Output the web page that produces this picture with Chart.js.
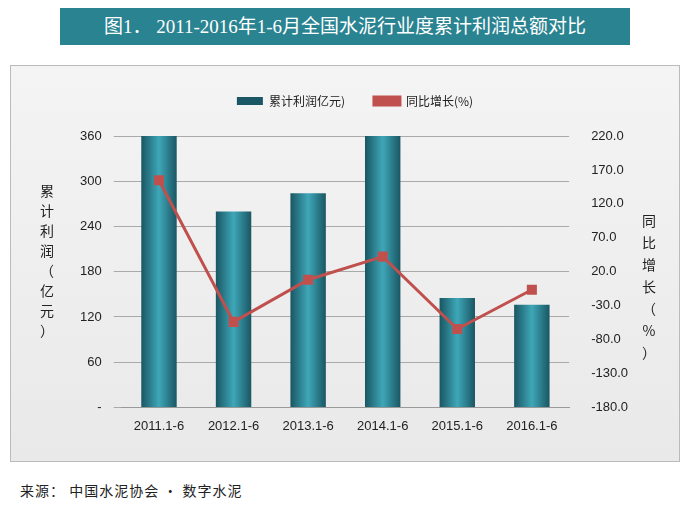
<!DOCTYPE html>
<html><head><meta charset="utf-8">
<script src="https://cdn.jsdelivr.net/npm/chart.js@4"></script>
<style>
body{margin:0;width:690px;height:505px;background:#fff;font-family:"Noto Sans CJK SC","Liberation Serif",serif;position:relative;overflow:hidden}
#title{position:absolute;left:60px;top:8px;width:570px;height:37px;background:#2a8391;color:#fff;font-size:19px;line-height:37px;text-align:center;font-family:"Liberation Serif","Noto Sans CJK SC",serif}
#panel{position:absolute;left:10px;top:65px;width:668px;height:395px;border:1px solid #bbb;background:linear-gradient(#f4f4f4,#e9e9e9)}
#src{position:absolute;left:20px;top:480px;font-size:14px;color:#222;letter-spacing:1px}
</style></head><body>
<div id="title">图1．  2011-2016年1-6月全国水泥行业度累计利润总额对比</div>
<div id="panel"><canvas id="c" width="668" height="395"></canvas></div>
<div id="src">来源：  中国水泥协会 · 数字水泥</div>
<script>
const categories=["2011.1-6","2012.1-6","2013.1-6","2014.1-6","2015.1-6","2016.1-6"];
const profit=[360,260,284,360,145,136];
const growth=[154.8,-54,8.2,42.2,-64.4,-6.6];
const leftTicks=[0,60,120,180,240,300,360];
const rightTicks=[-180,-130,-80,-30,20,70,120,170,220];
function barFill(ctx){
  const ch=ctx.chart,xs=ch.scales&&ch.scales.x,ca=ch.chartArea;
  if(!xs||!ca||ctx.dataIndex===undefined)return "#2b8394";
  const cx=xs.getPixelForValue(ctx.dataIndex),w=ca.width/categories.length*0.95*0.5;
  const g=ch.ctx.createLinearGradient(cx-w/2,0,cx+w/2,0);
  g.addColorStop(0,"#1a5663");g.addColorStop(0.5,"#3ea7b8");g.addColorStop(1,"#1a5663");return g;
}
const vtext={id:"vtext",afterDraw(ch){const c=ch.ctx;c.save();c.fillStyle="#222";c.font="14px 'Noto Sans CJK SC'";c.textAlign="center";
 const L=["累","计","利","润","（","亿","元","）"];L.forEach((t,i)=>c.fillText(t,36,125+i*20));
 const R=["同","比","增","长","（","%","）"];R.forEach((t,i)=>c.fillText(t,638,155+i*22));c.restore();}};
const legendGap={id:"legendGap",beforeInit(ch){const l=ch.legend;if(!l)return;const f=l.fit.bind(l);l.fit=function(){f();this.height+=19;}}};
new Chart(document.getElementById("c"),{
 data:{labels:categories,datasets:[
  {type:"line",label:"同比增长(%)",data:growth,yAxisID:"y2",borderColor:"#c0504d",backgroundColor:"#c0504d",borderWidth:3,pointStyle:"rect",pointRadius:5,pointBackgroundColor:"#c0504d",order:0},
  {type:"bar",label:"累计利润亿元)",data:profit,yAxisID:"y",backgroundColor:barFill,categoryPercentage:0.95,barPercentage:0.5,order:1}
 ]},
 options:{responsive:false,animation:false,
  layout:{padding:{left:57,right:37,top:0,bottom:24}},
  plugins:{legend:{position:"top",reverse:true,labels:{color:"#222",font:{size:12,family:"'Noto Sans CJK SC'"},boxWidth:26,boxHeight:8,padding:29}},tooltip:{enabled:false}},
  scales:{
   x:{grid:{display:false},border:{color:"#999"},ticks:{color:"#222",font:{size:13,family:"'Liberation Sans'"}}},
   y:{min:0,max:360,afterBuildTicks:a=>{a.ticks=leftTicks.map(v=>({value:v}))},grid:{color:"#aaa"},border:{display:false},
      ticks:{color:"#222",padding:12,font:{size:13,family:"'Liberation Sans'"},callback:v=>v===0?"-":v}},
   y2:{position:"right",min:-180,max:220,afterBuildTicks:a=>{a.ticks=rightTicks.map(v=>({value:v}))},grid:{display:false},border:{display:false},
      ticks:{color:"#222",padding:14,font:{size:13,family:"'Liberation Sans'"},callback:v=>v.toFixed(1)}}
  }},
 plugins:[vtext,legendGap]
});
</script></body></html>
